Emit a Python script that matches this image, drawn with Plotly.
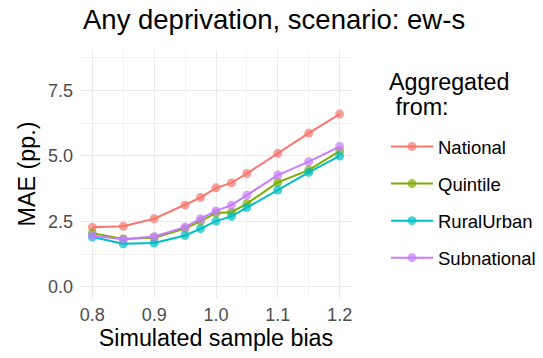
import plotly.graph_objects as go

# Simulated sample bias levels
bias = [0.8, 0.85, 0.9, 0.95, 0.975, 1.0, 1.025, 1.05, 1.1, 1.15, 1.2]

# Mean absolute error (percentage points) by aggregation level
mae_national = [2.27, 2.31, 2.60, 3.12, 3.41, 3.78, 3.97, 4.33, 5.10, 5.87, 6.60]
mae_quintile = [2.05, 1.83, 1.87, 2.22, 2.51, 2.82, 2.85, 3.18, 3.99, 4.46, 5.19]
mae_ruralurban = [1.90, 1.64, 1.67, 1.96, 2.22, 2.51, 2.69, 3.03, 3.70, 4.37, 5.00]
mae_subnational = [1.95, 1.82, 1.92, 2.28, 2.60, 2.90, 3.12, 3.50, 4.27, 4.78, 5.36]

# Legend heading lines
legend_heading = ["Aggregated", "\u00a0from:"]

series = [
    ("National", mae_national, "#F8766D"),
    ("Quintile", mae_quintile, "#7CAE00"),
    ("RuralUrban", mae_ruralurban, "#00BFC4"),
    ("Subnational", mae_subnational, "#C77CFF"),
]

fig = go.Figure()
for name, vals, col in series:
    fig.add_trace(go.Scatter(
        x=bias, y=vals, name=name, legendgroup=name, mode="lines+markers",
        line=dict(color=col, width=2),
        marker=dict(color=col, size=9, opacity=0.7),
    ))

font = "Liberation Sans, Arial, sans-serif"
W, H = 543, 358
L, R, T, B = 80, 191, 50, 60
PW, PH = W - L - R, H - T - B

# Legend heading drawn as its own text lines above the entries (tighter leading)
for i, line in enumerate(legend_heading):
    fig.add_annotation(
        text=line, xref="paper", yref="paper",
        x=(387 - L) / PW, y=1 + (T - (67 + 25 * i)) / PH,
        xanchor="left", yanchor="top", showarrow=False, align="left",
        font=dict(size=23.3, color="black", family=font),
    )

fig.update_layout(
    width=W, height=H,
    margin=dict(l=L, r=R, t=T, b=B, autoexpand=False),
    paper_bgcolor="white", plot_bgcolor="white",
    font=dict(family=font, color="black"),
    title=dict(text="Any deprivation, scenario: ew-s", x=83 / W, xref="container",
               xanchor="left", y=1 - 19 / H, yref="container", yanchor="middle",
               font=dict(size=27.5, color="black")),
    xaxis=dict(
        range=[0.78, 1.22], tickvals=[0.8, 0.9, 1.0, 1.1, 1.2],
        ticktext=["0.8", "0.9", "1.0", "1.1", "1.2"],
        showgrid=True, gridcolor="#ebebeb", gridwidth=1.2,
        minor=dict(tickvals=[0.85, 0.95, 1.05, 1.15], showgrid=True,
                   gridcolor="#f2f2f2", gridwidth=0.8),
        zeroline=False, showline=False, ticks="", automargin=False,
        tickfont=dict(size=18, color="#4d4d4d"),
        ticklabelstandoff=4,
        title=dict(text="Simulated sample bias", font=dict(size=23.3, color="black"),
                   standoff=4),
    ),
    yaxis=dict(
        range=[-0.43, 9.05], tickvals=[0, 2.5, 5.0, 7.5],
        ticktext=["0.0", "2.5", "5.0", "7.5"],
        showgrid=True, gridcolor="#ebebeb", gridwidth=1.2,
        minor=dict(tickvals=[1.25, 3.75, 6.25, 8.75], showgrid=True,
                   gridcolor="#f2f2f2", gridwidth=0.8),
        zeroline=False, showline=False, ticks="", automargin=False,
        tickfont=dict(size=18, color="#4d4d4d"),
        ticklabelstandoff=6,
        title=dict(text="MAE (pp.)", font=dict(size=23.3, color="black"), standoff=5),
    ),
    legend=dict(
        x=(386 - L) / PW, xanchor="left",
        y=1 + (T - 128) / PH, yanchor="top",
        font=dict(size=18.5, color="black"),
        itemwidth=42, tracegroupgap=10,
    ),
)

fig.write_html("out.html")
